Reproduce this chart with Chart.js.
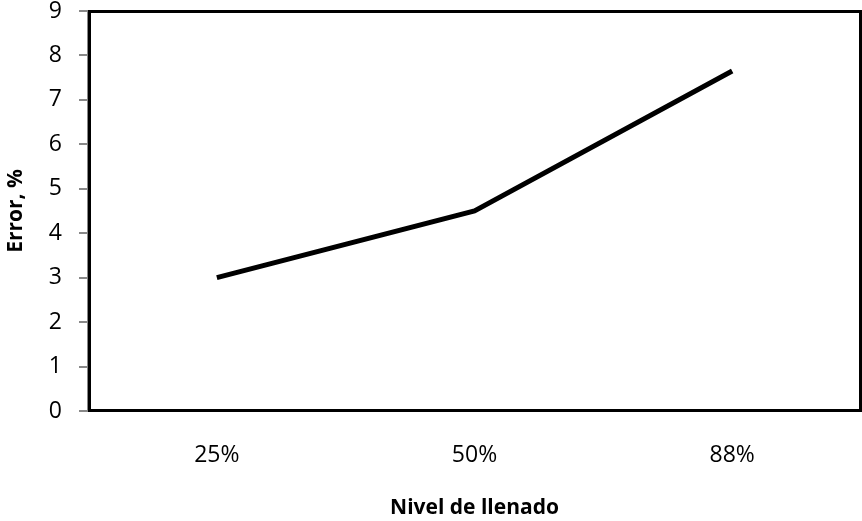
<!DOCTYPE html>
<html>
<head>
<meta charset="utf-8">
<script src="https://cdn.jsdelivr.net/npm/chart.js@4/dist/chart.umd.min.js"></script>
<style>
  html, body { margin: 0; padding: 0; background: #fff; }
  #wrap { width: 862px; height: 521px; }
</style>
</head>
<body>
<div id="wrap"><canvas id="canvas" width="862" height="521"></canvas></div>
<script>
var categories = ['25%', '50%', '88%'];
var errorValues = [3.0, 4.5, 7.65];
var yTicks = [0, 1, 2, 3, 4, 5, 6, 7, 8, 9];

var FONT = '"Open Sans", sans-serif';

// black frame around the plot area, drawn over the gray axis lines
var frame = {
    id: 'frame',
    afterDraw: function (c) {
        var a = c.chartArea;
        var ctx = c.ctx;
        ctx.save();
        ctx.strokeStyle = '#000';
        ctx.lineWidth = 3;
        ctx.strokeRect(a.left + 1.5, a.top + 0.5, a.right - a.left - 2, a.bottom - a.top - 1);
        ctx.restore();
    }
};

new Chart(document.getElementById('canvas').getContext('2d'), {
    type: 'line',
    data: {
        labels: categories,
        datasets: [{
            data: errorValues,
            borderColor: '#000',
            borderWidth: 5,
            pointRadius: 0,
            tension: 0,
            fill: false
        }]
    },
    options: {
        responsive: false,
        animation: false,
        layout: { padding: { top: 11, right: 1, left: 0, bottom: 0 } },
        plugins: {
            legend: { display: false },
            tooltip: { enabled: false }
        },
        scales: {
            x: {
                offset: true,
                grid: { display: false, drawTicks: false },
                border: { color: '#888', width: 2 },
                ticks: { color: '#000', padding: 31, font: { family: FONT, size: 23 } },
                title: {
                    display: true,
                    text: 'Nivel de llenado',
                    color: '#000',
                    padding: { top: 0, bottom: 0 },
                    font: { family: FONT, size: 21, weight: 'bold' }
                },
                afterFit: function (s) { s.height = 110; s.paddingLeft = 0; s.paddingRight = 0; }
            },
            y: {
                min: 0,
                max: 9,
                afterBuildTicks: function (s) { s.ticks = yTicks.map(function (v) { return { value: v }; }); },
                grid: { drawOnChartArea: false, drawTicks: true, tickLength: 9, color: '#888', lineWidth: 2 },
                border: { color: '#888', width: 2 },
                ticks: { color: '#000', padding: 17, font: { family: FONT, size: 23 } },
                title: {
                    display: true,
                    text: 'Error, %',
                    color: '#000',
                    padding: { top: 3, bottom: 0 },
                    font: { family: FONT, size: 21, weight: 'bold' }
                },
                afterFit: function (s) { s.width = 88; s.paddingTop = 0; s.paddingBottom = 0; }
            }
        }
    },
    plugins: [frame]
});
</script>
</body>
</html>
